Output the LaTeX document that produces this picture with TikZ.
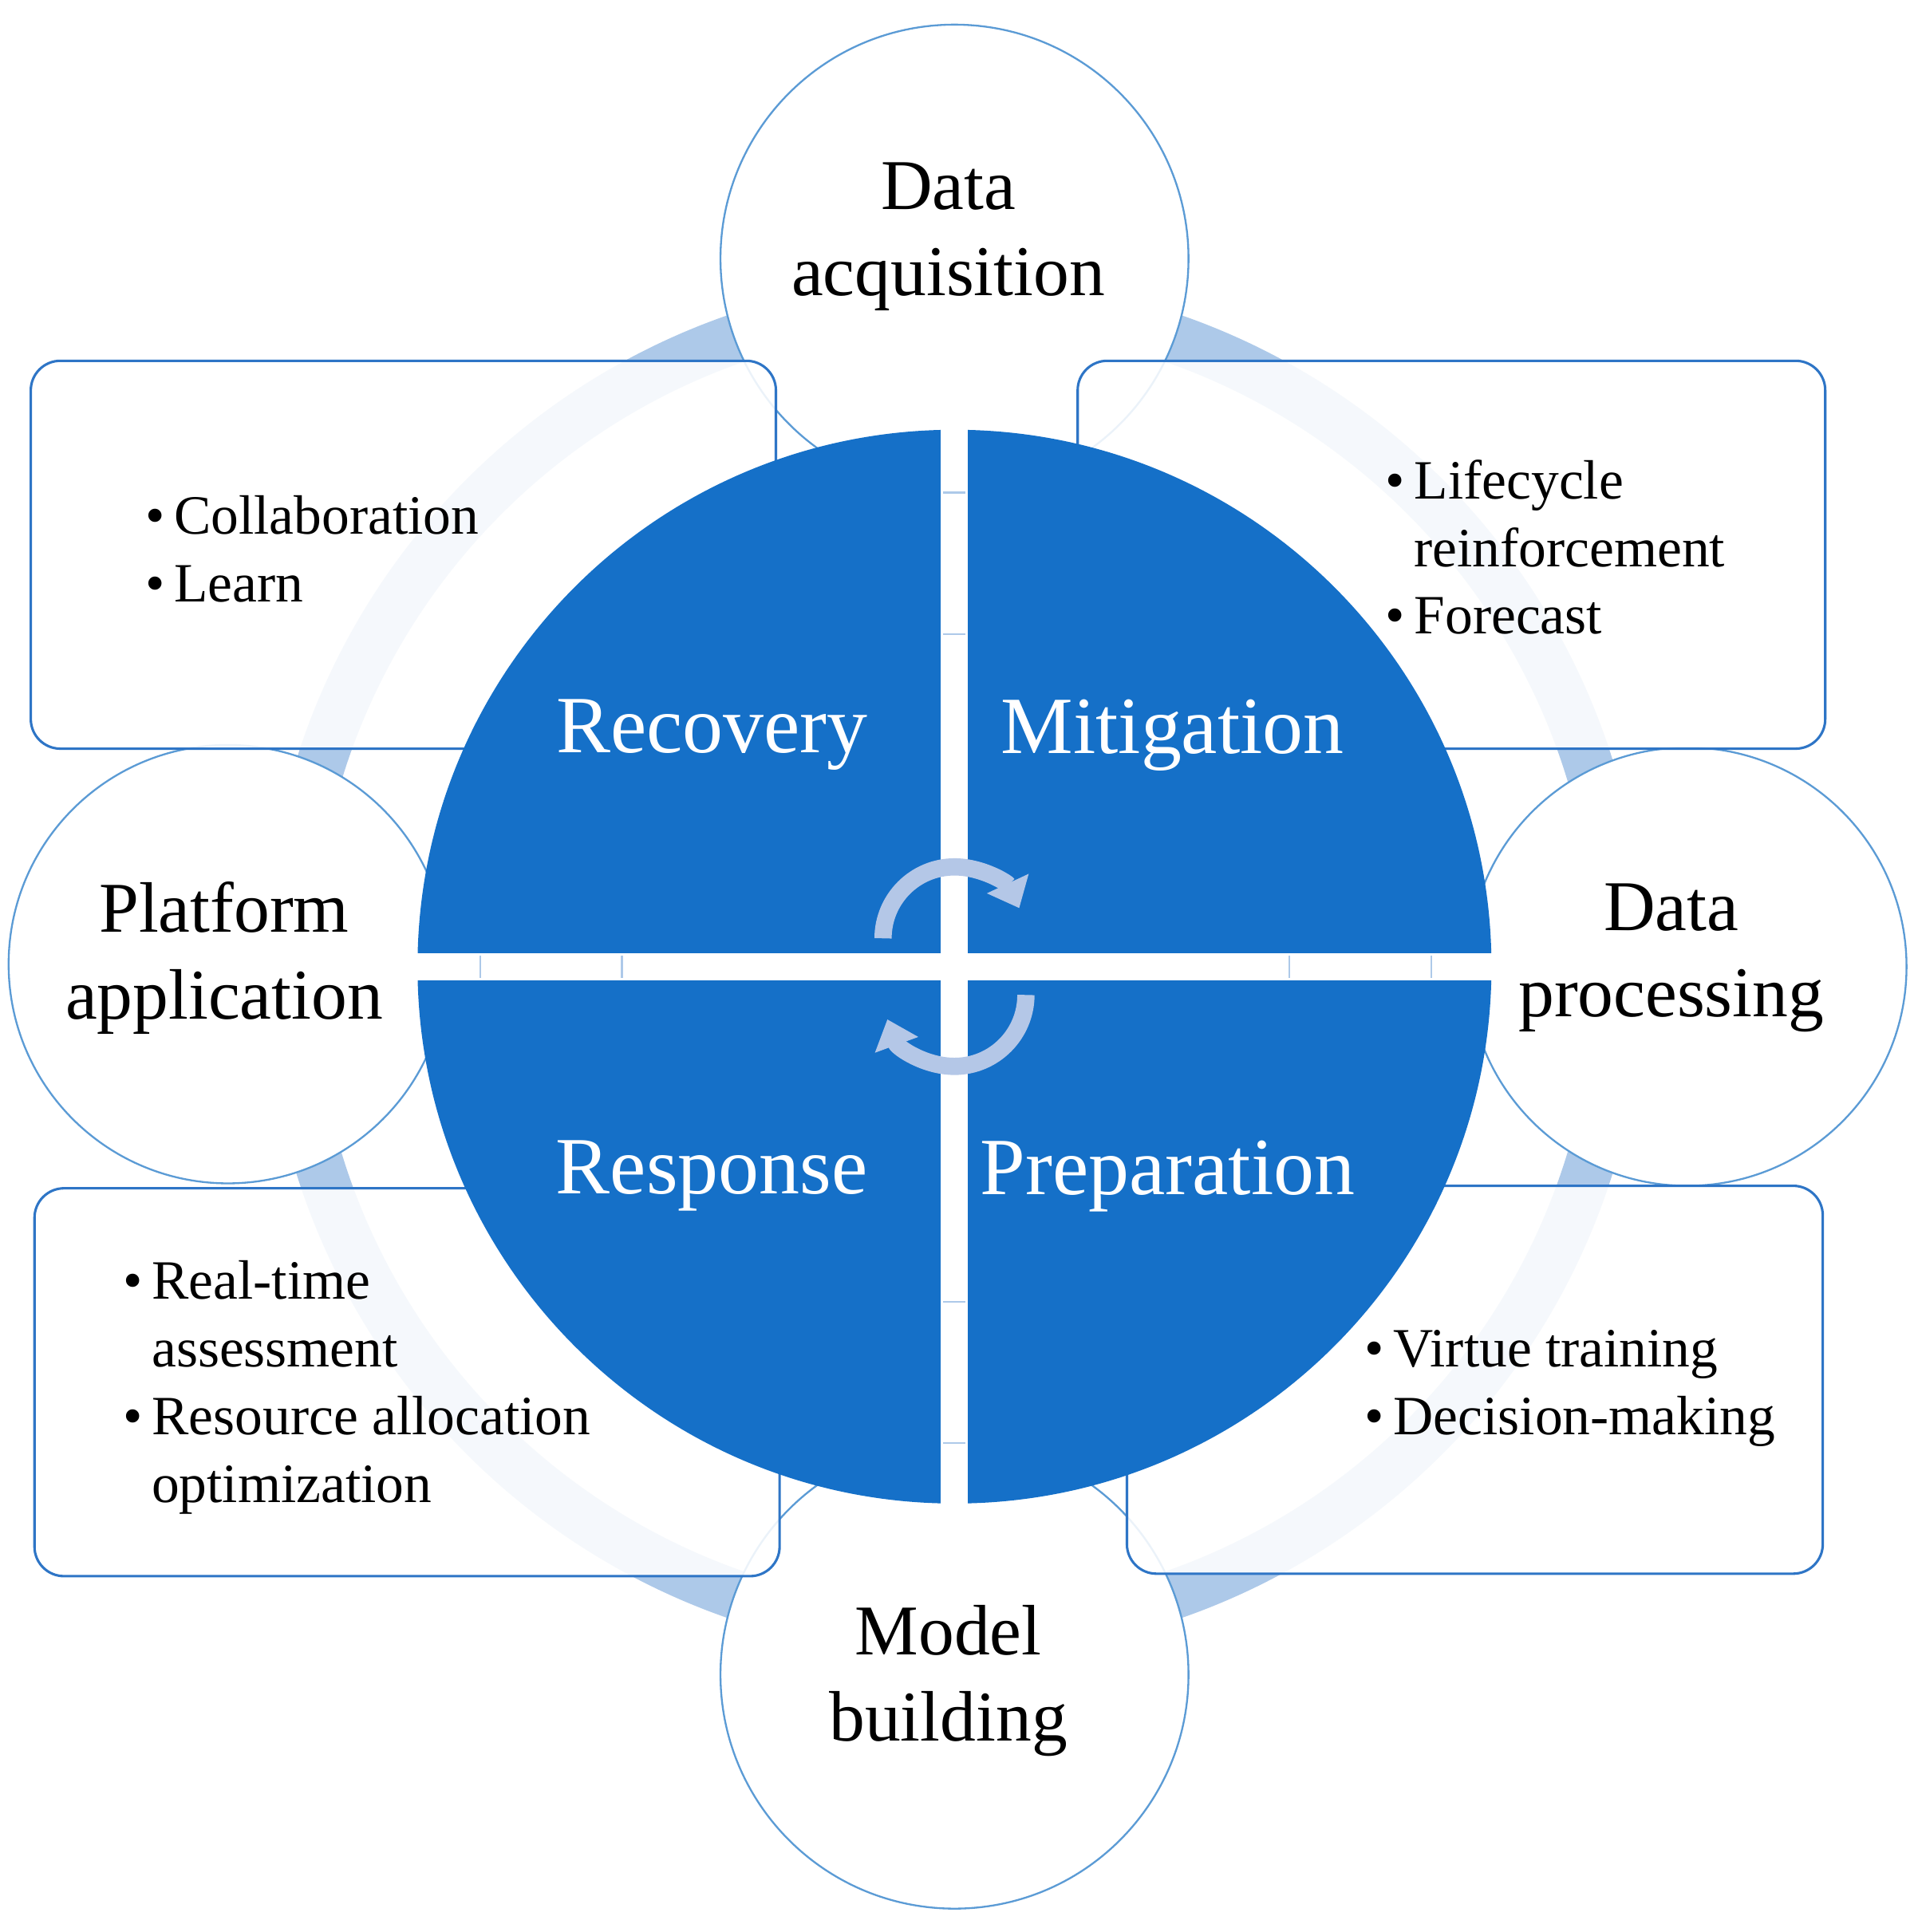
\documentclass[tikz,border=0pt]{standalone}
\usepackage{fontspec}
\setmainfont{Liberation Serif}
\usetikzlibrary{arrows.meta}
\definecolor{ringc}{HTML}{ADC9E9}
\definecolor{circc}{HTML}{5B9BD5}
\definecolor{boxc}{HTML}{2E75C6}
\definecolor{qblue}{HTML}{1570C8}
\definecolor{arrc}{HTML}{B4C7E7}
\begin{document}
\begin{tikzpicture}[x=1pt,y=-1pt,
  sat/.style={circle,draw=circc,line width=1.5pt,fill=white,minimum size=#1},
  satlab/.style={align=center,font=\fontsize{58}{70}\selectfont},
  box/.style={draw=boxc,line width=2pt,rounded corners=24pt,fill=white,fill opacity=0.88},
  qlab/.style={text=white,font=\fontsize{66}{80}\selectfont},
  bul/.style={anchor=base west,inner sep=0pt,font=\fontsize{45}{55}\selectfont},
  tick/.style={draw=ringc,line width=1.5pt},
  carr/.style={draw=arrc,line width=14pt,-{Triangle[length=22pt,width=36pt]}}]
\useasboundingbox (0,0) rectangle (1560,1569);
\fill[white] (0,0) rectangle (1560,1569);
% ring
\draw[ringc,line width=40pt] (775,785) circle[radius=540];
% satellite circles
\node[sat=380pt] (top) at (775,210) {};
\node[sat=380pt] (bot) at (775,1360) {};
\node[sat=356pt] (lft) at (185,783) {};
\node[sat=356pt] (rgt) at (1370,785) {};
% boxes
\draw[box] (25,293) rectangle (630,608);
\draw[box] (875,293) rectangle (1482,608);
\draw[box] (28,965) rectangle (633,1280);
\draw[box] (915,963) rectangle (1480,1278);
% satellite labels
\node[satlab] (tl) at (770,192) {Data\\acquisition};
\node[satlab] (bl) at (770,1365) {Model\\building};
\node[satlab] (ll) at (182,778) {Platform\\application};
\node[satlab] (rl) at (1357,778) {Data\\processing};
% bullets
\node[bul] (b1a) at (118,434) {\textbullet\,Collaboration};
\node[bul] (b1b) at (118,489) {\textbullet\,Learn};
\node[bul] (b2a) at (1125,405) {\textbullet\,Lifecycle};
\node[bul] (b2b) at (1148,460) {reinforcement};
\node[bul] (b2c) at (1125,515) {\textbullet\,Forecast};
\node[bul] (b3a) at (100,1055) {\textbullet\,Real-time};
\node[bul] (b3b) at (123,1110) {assessment};
\node[bul] (b3c) at (100,1165) {\textbullet\,Resource allocation};
\node[bul] (b3d) at (123,1220) {optimization};
\node[bul] (b4a) at (1108,1110) {\textbullet\,Virtue training};
\node[bul] (b4b) at (1108,1165) {\textbullet\,Decision-making};
% central pie
\fill[qblue] (775,785) circle[radius=436];
\fill[white] (764,340) rectangle (786,1230);
\fill[white] (330,774) rectangle (1220,796);
\foreach \y in {400,515,1057,1172} \draw[tick] (766,\y) -- (784,\y);
\foreach \x in {390,505,1047,1162} \draw[tick] (\x,776) -- (\x,794);
\node[qlab] (q1) at (578,597) {Recovery};
\node[qlab] (q2) at (952,597) {Mitigation};
\node[qlab] (q3) at (578,955) {Response};
\node[qlab] (q4) at (948,955) {Preparation};
% circular arrows
\draw[carr] (717,762) arc[start angle=180,end angle=335,radius=58];
\draw[carr] (833,808) arc[start angle=0,end angle=160,radius=58];
\end{tikzpicture}
\end{document}
